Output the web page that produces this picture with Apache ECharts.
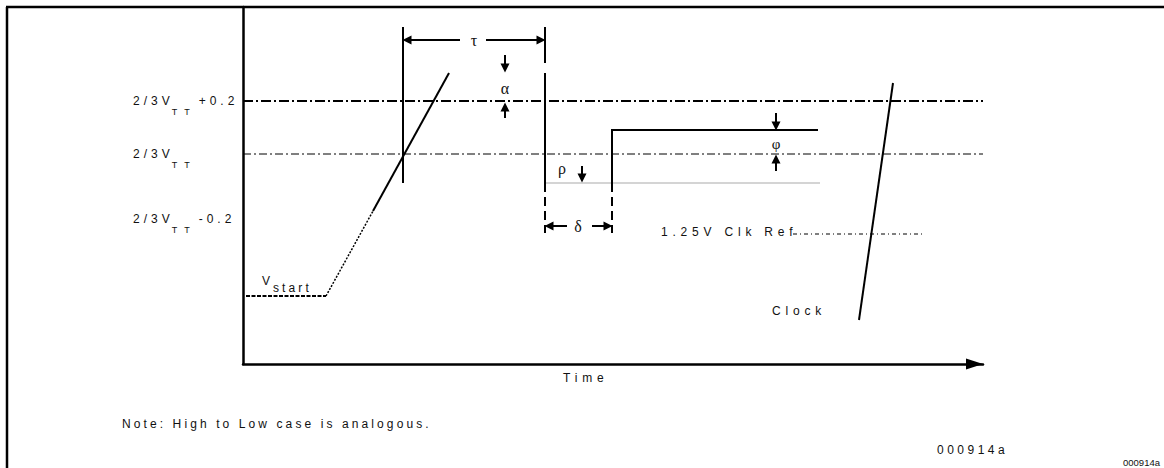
<!DOCTYPE html>
<html>
<head>
<meta charset="utf-8">
<script src="https://cdn.jsdelivr.net/npm/echarts@6/dist/echarts.min.js"></script>
<style>
  * { margin: 0; padding: 0; }
  body { background: #fff; }
  #main { width: 1164px; height: 468px; }
  /* the drawing uses wide tracking; the extra family name picks the amount */
  #main text[style*="ls-tight"] { letter-spacing: 3.1px; }
  #main text[style*="ls-mid"] { letter-spacing: 3.5px; }
  #main text[style*="ls-label"] { letter-spacing: 4px; }
  #main text[style*="ls-wide"] { letter-spacing: 4.8px; }
  #main text[style*="ls-sub"] { letter-spacing: 7px; }
</style>
</head>
<body>
<div id="main"></div>
<script>
  // units: x = time from the axis origin, y = level above the time axis
  const levelValues = [145, 210, 263];
  const levelLabels = ['{a|2/3V}{s|TT}{b|-0.2}', '{a|2/3V}{s|TT}', '{a|2/3V}{s|TT}{b|+0.2}'];

  const refHigh = [[0, 263], [740, 263]];
  const refMid = [[0, 210], [740, 210]];
  const clkRef = [[550, 130], [680, 130]];

  const vstart = [[3, 68], [83, 68]];
  const rampDotted = [[83, 68], [130, 153]];
  const rampSolid = [[130, 153], [206, 291]];
  const dataFall = [[302, 291], [302, 181]];
  const dataLow = [[302, 181], [577, 181]];
  const dataRise = [[369, 181], [369, 234], [575, 234]];
  const clockEdge = [[616, 44], [650, 281]];

  const markTau = [[160, 337], [160, 181]];
  const markTop = [[302, 337], [302, 301]];
  const markDrops = [[[302, 181], [302, 131]], [[369, 181], [369, 131]]];

  // tail -> head
  const arrows = [
    [[217, 324], [164, 324]], [[243, 324], [298, 324]],   // tau
    [[262, 309], [262, 296]], [[262, 246], [262, 257]],   // alpha
    [[339, 198], [339, 186]],                             // rho
    [[324, 138], [306, 138]], [[349, 138], [365, 138]],   // delta
    [[533, 251], [533, 238]], [[533, 193], [533, 205]]    // phi
  ];

  function fam(tag) {
    return '"Liberation Sans", ' + (tag ? tag + ', ' : '') + 'Arial, sans-serif';
  }
  const GREEK = '"Liberation Serif", "DejaVu Serif", serif';

  function seg(list, style, z) {
    return {
      type: 'lines',
      coordinateSystem: 'cartesian2d',
      polyline: true,
      silent: true,
      z: z || 2,
      lineStyle: Object.assign({ color: '#000', width: 2, opacity: 1, curveness: 0 }, style),
      data: list.map(function (c) { return { coords: c }; })
    };
  }

  function txt(text, x, y, opt) {
    return {
      type: 'text',
      silent: true,
      style: Object.assign({
        text: text, x: x, y: y, fill: '#111',
        font: '12px ' + fam('ls-wide'), align: 'left', verticalAlign: 'middle'
      }, opt || {})
    };
  }

  const chart = echarts.init(document.getElementById('main'), null, { renderer: 'svg' });
  chart.setOption({
    animation: false,
    backgroundColor: '#fff',
    grid: { left: 243, top: 7, width: 740, height: 357, outerBoundsMode: 'none' },
    xAxis: {
      type: 'value', min: 0, max: 740,
      axisLine: {
        lineStyle: { color: '#000', width: 2.5 },
        symbol: ['none', 'triangle'], symbolSize: [11, 17], symbolOffset: [0, -8.5]
      },
      axisTick: { show: false }, axisLabel: { show: false }, splitLine: { show: false }
    },
    yAxis: {
      type: 'value', min: 0, max: 357,
      axisLine: { show: true, lineStyle: { color: '#000', width: 2.5 } },
      axisTick: { show: false },
      splitLine: { show: false },
      axisLabel: {
        customValues: levelValues,
        align: 'left',
        margin: 110,
        color: '#111',
        formatter: function (v) { return levelLabels[levelValues.indexOf(v)] || ''; },
        rich: {
          a: { fontSize: 12, fontFamily: fam('ls-label'), color: '#111', verticalAlign: 'middle', padding: [0, 14, 0, 0] },
          s: { fontSize: 9, fontFamily: fam('ls-sub'), color: '#111', verticalAlign: 'middle', padding: [22, 16, 0, 0] },
          b: { fontSize: 12, fontFamily: fam('ls-label'), color: '#111', verticalAlign: 'middle' }
        }
      }
    },
    series: [
      seg([refHigh], { width: 2, type: [10, 3, 2, 3] }),
      seg([refMid], { width: 1, type: [8, 3, 2, 3] }),
      seg([clkRef], { width: 1, type: [4, 3, 1, 3] }),
      seg([dataLow], { width: 2, color: '#d4d4d4' }),
      seg([vstart], { width: 2, type: [4, 1.5] }),
      seg([rampDotted], { width: 1.5, type: [2, 1.5] }),
      seg([rampSolid, dataFall, dataRise, clockEdge, markTau, markTop], { width: 2 }, 3),
      seg(markDrops, { width: 2, type: [9, 5] }),
      {
        type: 'lines',
        coordinateSystem: 'cartesian2d',
        silent: true,
        z: 4,
        symbol: ['none', 'triangle'],
        symbolSize: [8, 9],
        lineStyle: { color: '#000', width: 2, opacity: 1, curveness: 0 },
        data: arrows.map(function (c) { return { coords: c }; })
      }
    ],
    graphic: [
      { type: 'line', silent: true, shape: { x1: 7, y1: 7, x2: 7, y2: 468 }, style: { stroke: '#000', lineWidth: 2.5 } },
      { type: 'line', silent: true, shape: { x1: 6, y1: 7, x2: 1164, y2: 7 }, style: { stroke: '#000', lineWidth: 2.5 } },
      txt('{v|V}{s|start}', 262, 281, {
        rich: {
          v: { font: '12px ' + fam('ls-tight'), fill: '#111', padding: [0, 3, 0, 0] },
          s: { font: '12px ' + fam('ls-tight'), fill: '#111', padding: [14, 0, 0, 0] }
        }
      }),
      txt('τ', 474, 40, { font: '16px ' + GREEK, align: 'center' }),
      txt('α', 505, 88, { font: '16px ' + GREEK, align: 'center' }),
      txt('ρ', 558, 168, { font: '16px ' + GREEK }),
      txt('δ', 578, 226, { font: '16px ' + GREEK, align: 'center' }),
      txt('φ', 776, 144, { font: '15px ' + GREEK, align: 'center' }),
      txt('1.25V Clk Ref', 661, 232),
      txt('Clock', 772, 311),
      txt('Time', 563, 378),
      txt('Note: High to Low case is analogous.', 122, 424, { font: '12px ' + fam('ls-tight') }),
      txt('000914a', 937, 450, { font: '12px ' + fam('ls-mid') }),
      txt('000914a', 1123, 462, { font: '9.5px ' + fam('') })
    ]
  });
</script>
</body>
</html>
